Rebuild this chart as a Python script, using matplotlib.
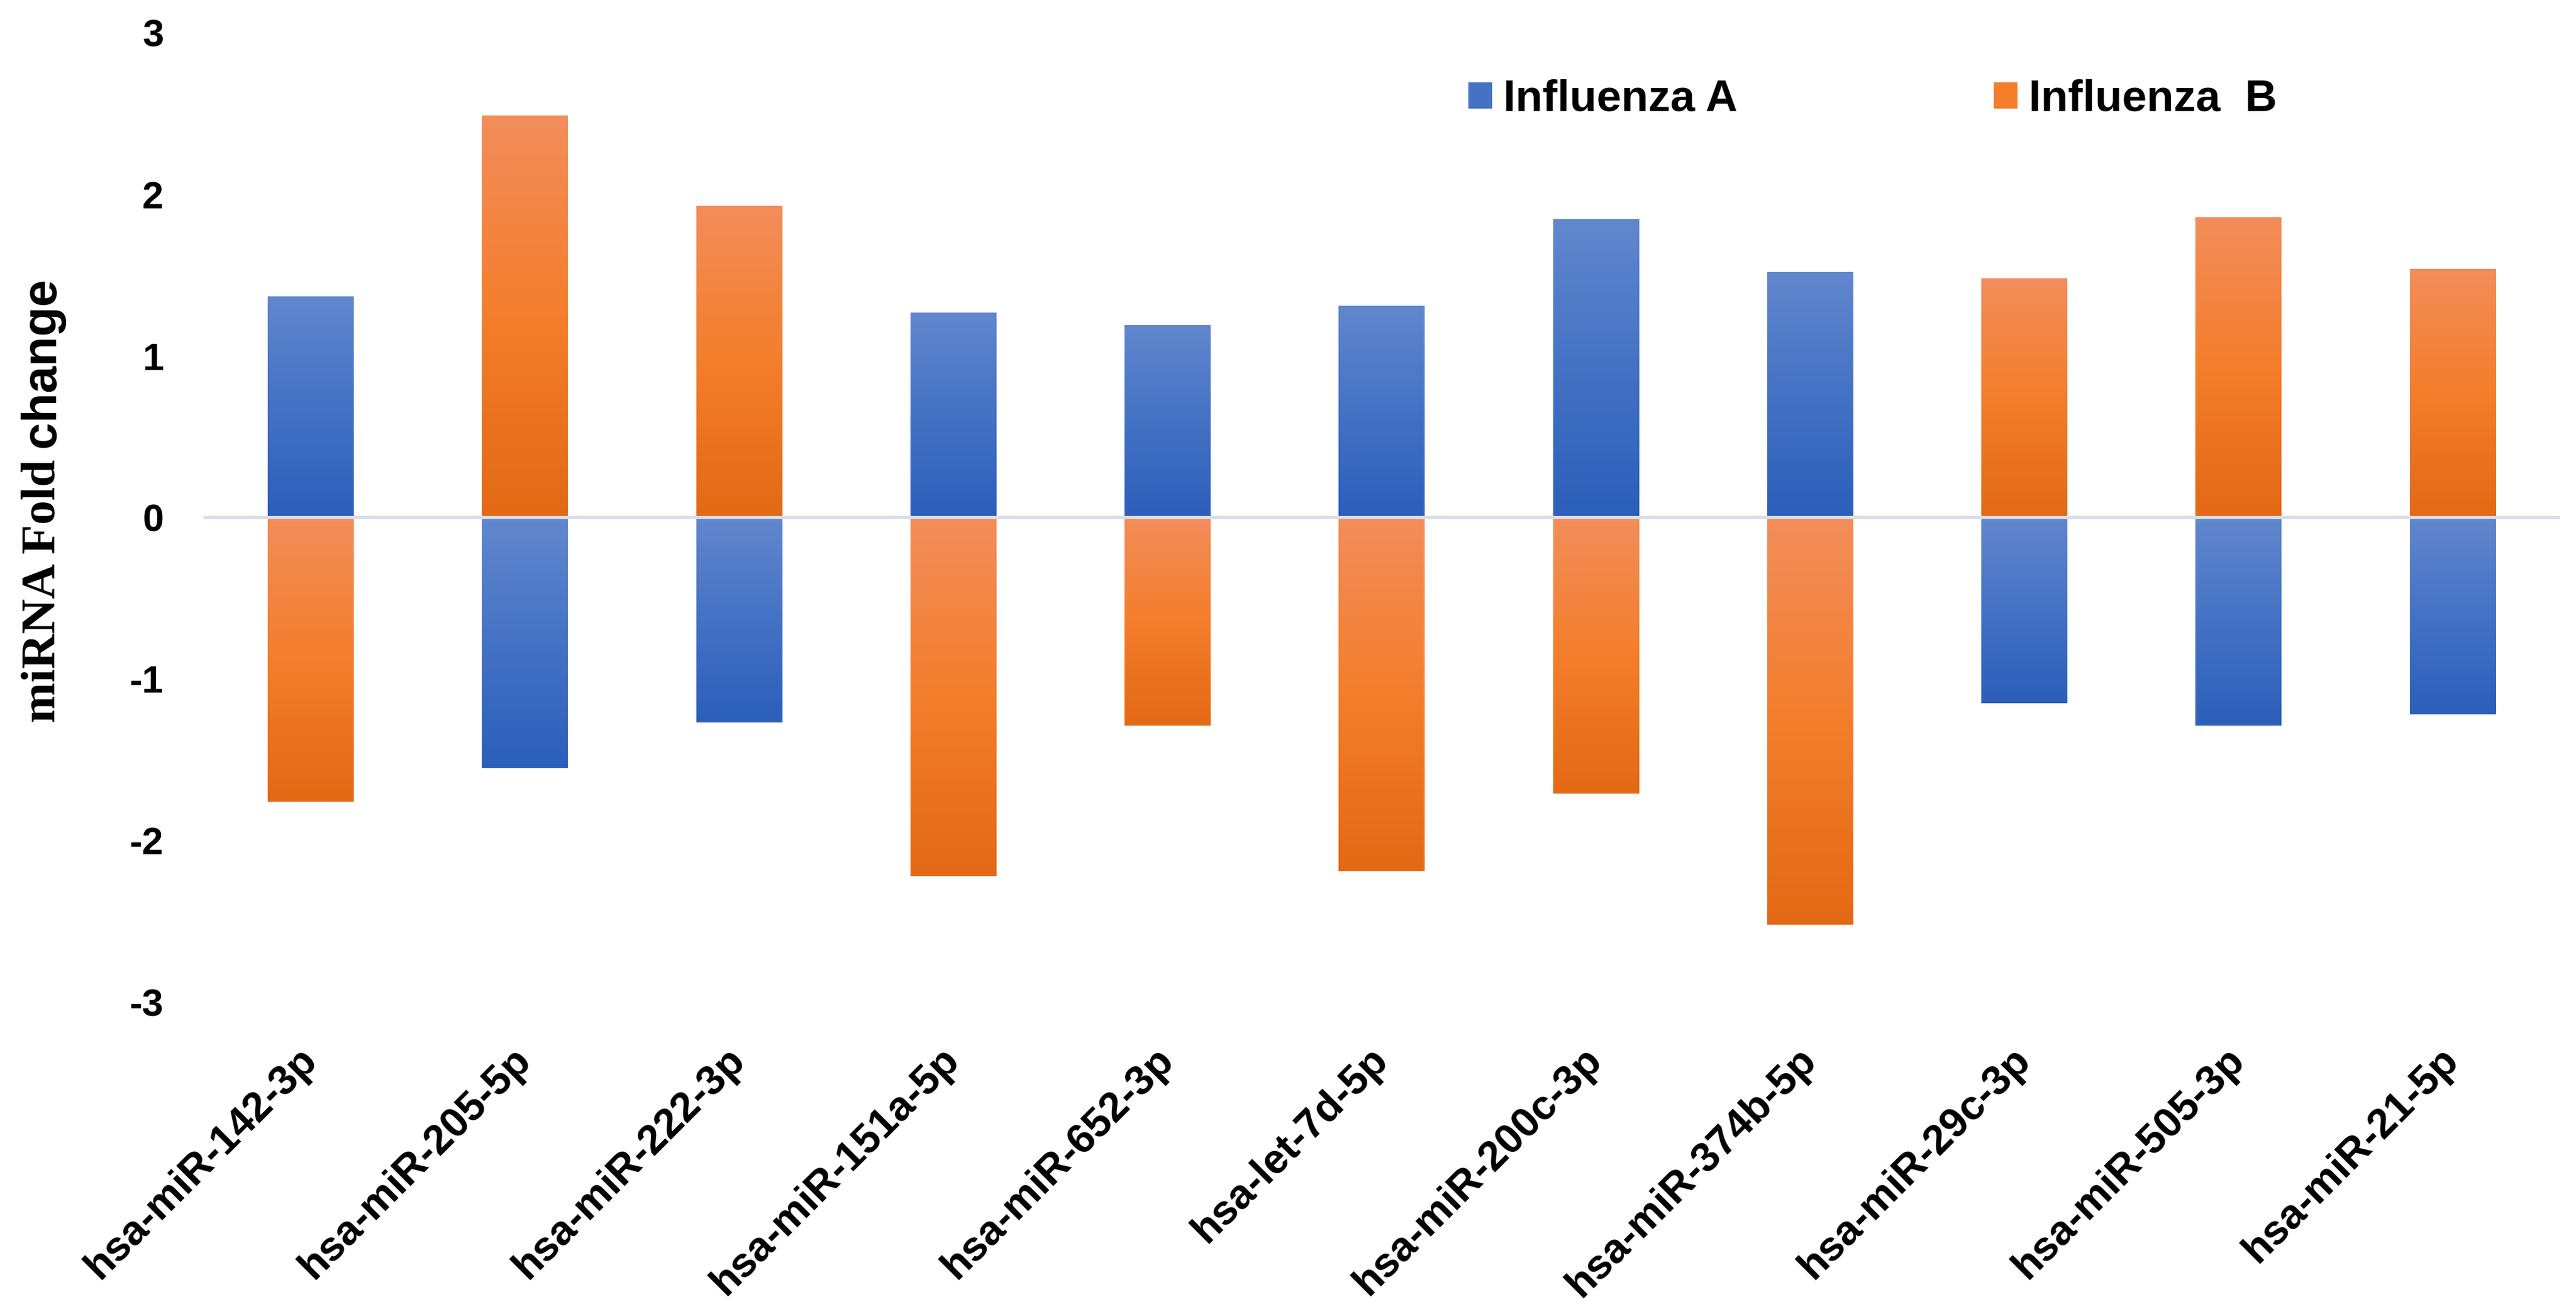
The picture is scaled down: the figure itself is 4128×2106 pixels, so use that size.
import numpy as np
import matplotlib.pyplot as plt
from matplotlib.colors import LinearSegmentedColormap
from matplotlib.patches import Patch

plt.rcParams['font.family'] = ['Liberation Sans', 'DejaVu Sans']
plt.rcParams['axes.unicode_minus'] = False

mirnas = ['hsa-miR-142-3p', 'hsa-miR-205-5p', 'hsa-miR-222-3p', 'hsa-miR-151a-5p',
          'hsa-miR-652-3p', 'hsa-let-7d-5p', 'hsa-miR-200c-3p', 'hsa-miR-374b-5p',
          'hsa-miR-29c-3p', 'hsa-miR-505-3p', 'hsa-miR-21-5p']
flu_a = [1.37, -1.55, -1.27, 1.27, 1.19, 1.31, 1.85, 1.52, -1.15, -1.29, -1.22]
flu_b = [-1.76, 2.49, 1.93, -2.22, -1.29, -2.19, -1.71, -2.52, 1.48, 1.86, 1.54]
series_names = ['Influenza A', 'Influenza  B']

blue_cmap = LinearSegmentedColormap.from_list('blue', ['#6287CE', '#4472C4', '#2C5FBB'])
orange_cmap = LinearSegmentedColormap.from_list('orange', ['#F28D5B', '#F47E2C', '#E36915'])

fig = plt.figure(figsize=(20.64, 10.53), dpi=200)
ax = fig.add_axes([0.079, 0.2374, 0.9147, 0.7375])

x = np.arange(len(mirnas))
width = 0.4
grad = np.linspace(0, 1, 256).reshape(-1, 1)

for vals, cmap in ((flu_a, blue_cmap), (flu_b, orange_cmap)):
    bars = ax.bar(x, vals, width, facecolor='none', edgecolor='none')
    for rect in bars:
        x0 = rect.get_x()
        y0 = rect.get_y()
        h = rect.get_height()
        lo, hi = min(y0, y0 + h), max(y0, y0 + h)
        im = ax.imshow(grad, extent=[x0, x0 + width, lo, hi], origin='upper',
                       aspect='auto', cmap=cmap, zorder=2)
        im.set_clip_path(rect)

ax.axhline(0, color='#D9DEE9', lw=1.8, zorder=3)

ax.set_xlim(-0.5, len(mirnas) - 0.5)
ax.set_ylim(-3, 3)
ax.set_yticks(range(-3, 4))
ax.set_xticks(x)
ax.set_xticklabels(mirnas, rotation=45, ha='right', va='center', rotation_mode='anchor')
for lab in ax.get_yticklabels():
    lab.set_fontweight('bold')
    lab.set_fontsize(22)
for lab in ax.get_xticklabels():
    lab.set_fontweight('bold')
    lab.set_fontsize(24)
ax.tick_params(axis='y', length=0, pad=23)
ax.tick_params(axis='x', length=0, pad=30)
for s in ax.spines.values():
    s.set_visible(False)

# y label: mixed fonts like the original
fig.text(0.0213, 1 - 737 / 2106, 'miRNA Fold', rotation=90, rotation_mode='anchor',
         ha='right', va='baseline', fontsize=28, fontweight='bold',
         family=['Liberation Serif', 'DejaVu Serif'])
fig.text(0.0213, 1 - 717 / 2106, 'change', rotation=90, rotation_mode='anchor',
         ha='left', va='baseline', fontsize=28, fontweight='bold')

handles = [Patch(facecolor='#4472C4'), Patch(facecolor='#F47E2C')]
fig.legend(handles, series_names, ncol=2, frameon=False, loc='center left',
           bbox_to_anchor=(2353 / 4128, 1 - 160 / 2106), borderaxespad=0, borderpad=0,
           handlelength=0.54, handleheight=0.52, handletextpad=0.25, columnspacing=5.8,
           prop={'weight': 'bold', 'size': 25.5})

fig.savefig('out.png', dpi=200)
